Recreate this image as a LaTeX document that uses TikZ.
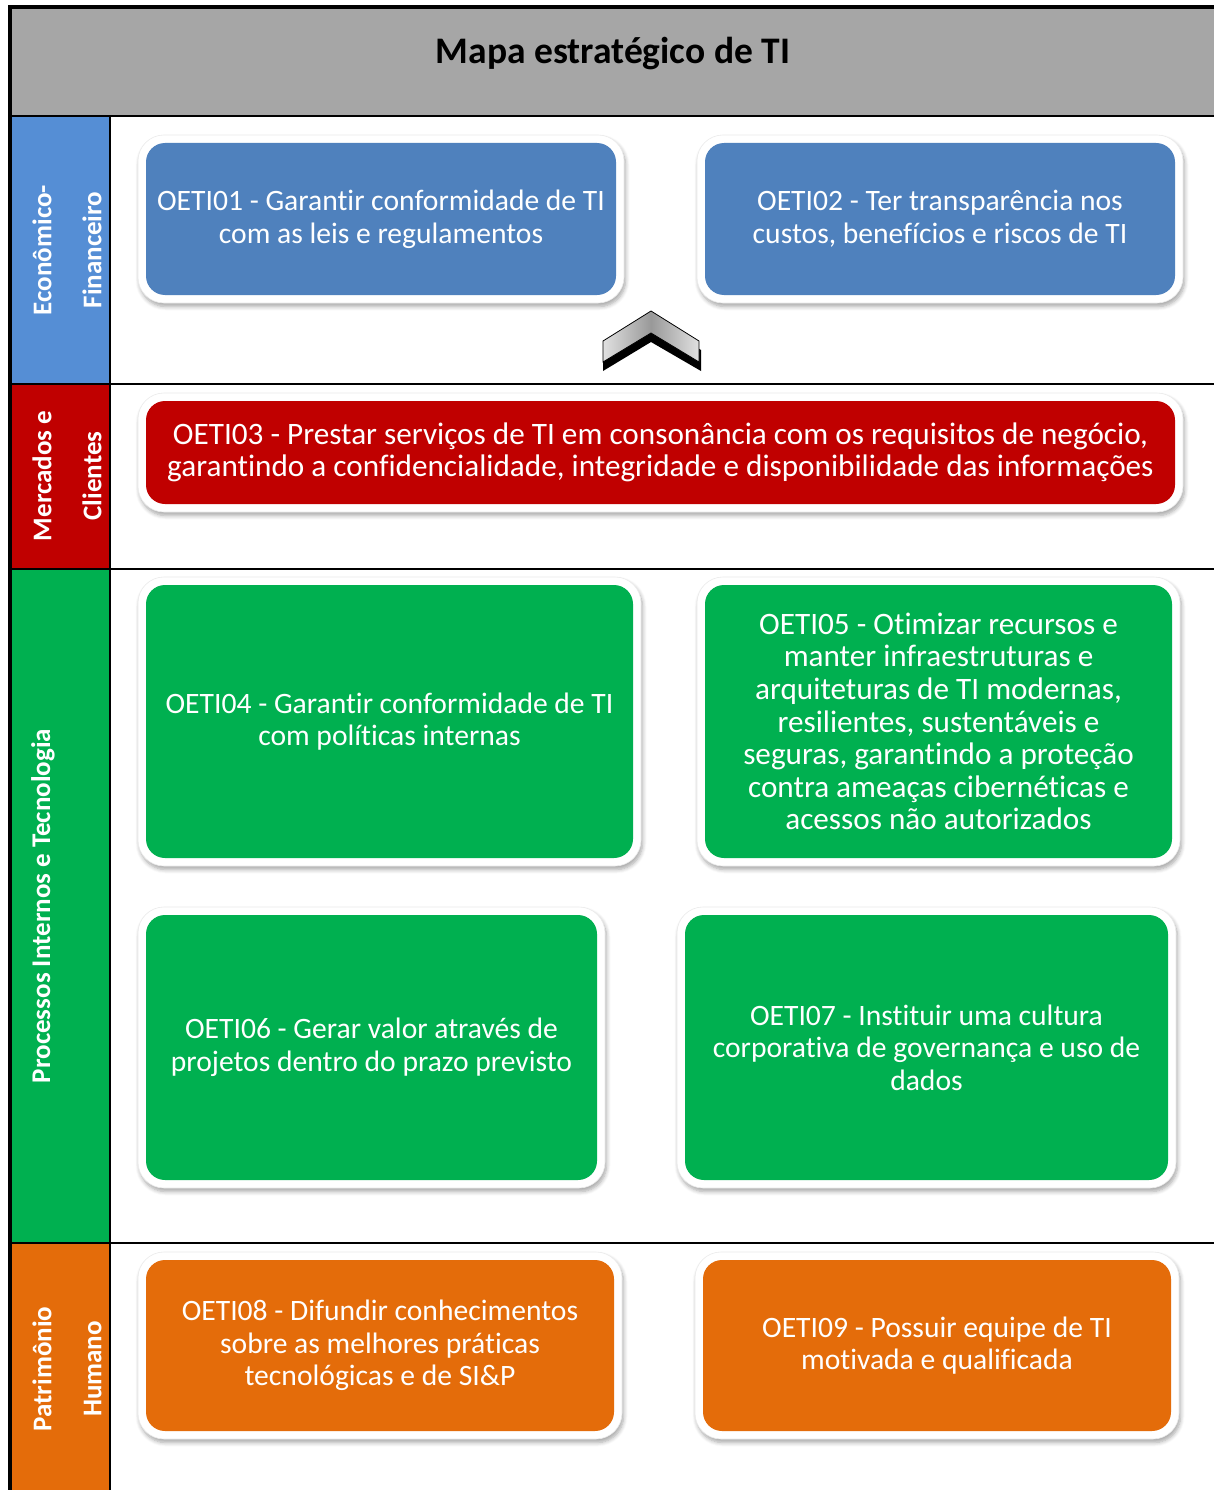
\documentclass[tikz,border=0pt]{standalone}
\usepackage{fontspec}
\setmainfont{Carlito}[Ligatures=CommonOff]
\usetikzlibrary{fit,shadows.blur}

\definecolor{titlegray}{HTML}{A6A6A6}
\definecolor{colblue}{HTML}{558ED5}
\definecolor{boxblue}{HTML}{4F81BD}
\definecolor{mapred}{HTML}{C00000}
\definecolor{mapgreen}{HTML}{00B050}
\definecolor{maporange}{HTML}{E46C0A}

\newcommand\objfont{\fontsize{29.6}{32.6}\selectfont}
\newcommand\objfontlarge{\fontsize{31.2}{32.6}\selectfont}

\tikzset{
  frame/.style={draw=black!8, line width=0.6pt, fill=white, rounded corners=26pt,
    inner sep=0pt,
    blur shadow={shadow xshift=1.5pt, shadow yshift=-3.5pt, shadow blur radius=4pt,
      shadow blur steps=6, shadow opacity=35}},
  objbox/.style={rounded corners=19pt, inner sep=0pt},
  objtext/.style={text=white, align=center, inner sep=0pt, font=\objfont},
  sidelabel/.style={rotate=90, text=white, align=center, inner sep=0pt,
    font=\bfseries\fontsize{27}{50}\selectfont},
  rule/.style={line width=2pt, black},
}

% objective: name, x1, y1, x2, y2, colour, text (optional: text style)
\newcommand\objetivo[8][]{%
  \node[frame, fit={(#3-8,#4-8)(#5+8,#6+8)}] (#2f) {};
  \node[objbox, fill=#7, fit={(#3,#4)(#5,#6)}] (#2) {};
  \node[objtext, #1] (#2t) at (#2.center) {#8};
}

\begin{document}
\begin{tikzpicture}[x=1pt,y=-1pt]
\useasboundingbox (0,0) rectangle (1214,1490);

% title bar
\fill[titlegray] (10,7) rectangle (1214,116);
\node[font=\bfseries\fontsize{37.5}{42}\selectfont] (title) at (613,54) {Mapa estratégico de TI};

% perspective column
\fill[colblue]   (10,116) rectangle (110,383);
\fill[mapred]    (10,383) rectangle (110,568);
\fill[mapgreen]  (10,568) rectangle (110,1243);
\fill[maporange] (10,1243) rectangle (110,1490);

\node[sidelabel] (p1) at (67,250) {Econômico-\\Financeiro};
\node[sidelabel] (p2) at (67,476) {Mercados e\\Clientes};
\node[sidelabel] (p3) at (43,906) {Processos Internos e Tecnologia};
\node[sidelabel] (p4) at (67,1369) {Patrimônio\\Humano};

% grid lines
\draw[rule] (10,116) -- (1214,116);
\draw[rule] (10,383.5) -- (1214,383.5);
\draw[rule] (10,568.5) -- (1214,568.5);
\draw[rule] (10,1243) -- (1214,1243);
\draw[rule] (110.3,116) -- (110.3,1490);
\draw[line width=4pt, black] (10,1490) -- (10,7) -- (1214,7);

% objectives
\objetivo{o1}{146}{143}{616}{295}{boxblue}{OETI01 - Garantir conformidade de TI\\com as leis e regulamentos}
\objetivo{o2}{705}{143}{1175}{295}{boxblue}{OETI02 - Ter transparência nos\\custos, benefícios e riscos de TI}
\objetivo[font=\objfontlarge]{o3}{146}{401}{1175}{504}{mapred}{OETI03 - Prestar serviços de TI em consonância com os requisitos de negócio,\\garantindo a confidencialidade, integridade e disponibilidade das informações}
\objetivo{o4}{146}{585}{633}{858}{mapgreen}{OETI04 - Garantir conformidade de TI\\com políticas internas}
\objetivo[font=\objfontlarge]{o5}{705}{585}{1172}{858}{mapgreen}{OETI05 - Otimizar recursos e\\manter infraestruturas e\\arquiteturas de TI modernas,\\resilientes, sustentáveis e\\seguras, garantindo a proteção\\contra ameaças cibernéticas e\\acessos não autorizados}
\objetivo{o6}{146}{915}{597}{1180}{mapgreen}{OETI06 - Gerar valor através de\\projetos dentro do prazo previsto}
\objetivo{o7}{685}{915}{1168}{1180}{mapgreen}{OETI07 - Instituir uma cultura\\corporativa de governança e uso de\\dados}
\objetivo{o8}{146}{1260}{614}{1431}{maporange}{OETI08 - Difundir conhecimentos\\sobre as melhores práticas\\tecnológicas e de SI\&P}
\objetivo{o9}{703}{1260}{1171}{1431}{maporange}{OETI09 - Possuir equipe de TI\\motivada e qualificada}

% upward chevron between the rows
\fill[black] (603,350) -- (651,320) -- (701,350) -- (701,371) -- (651,342) -- (603,371) -- cycle;
\shade[left color=black!12, right color=black!12, middle color=black!40, draw=black, line width=0.8pt]
  (603,341) -- (651,311) -- (699,341) -- (699,362) -- (651,333) -- (603,362) -- cycle;
\end{tikzpicture}
\end{document}
